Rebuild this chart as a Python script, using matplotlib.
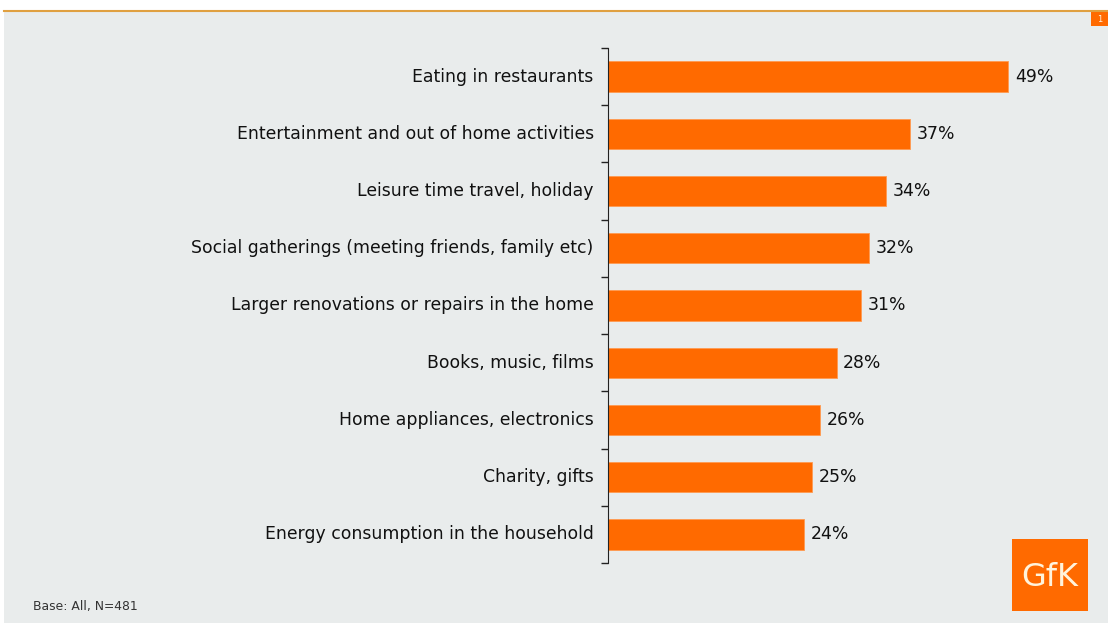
import matplotlib.pyplot as plt
from matplotlib.patches import Rectangle

categories = [
    "Eating in restaurants",
    "Entertainment and out of home activities",
    "Leisure time travel, holiday",
    "Social gatherings (meeting friends, family etc)",
    "Larger renovations or repairs in the home",
    "Books, music, films",
    "Home appliances, electronics",
    "Charity, gifts",
    "Energy consumption in the household",
]
values = [49, 37, 34, 32, 31, 28, 26, 25, 24]
base_note = "Base: All, N=481"

ORANGE = "#ff6a00"
BG = "#e9ecec"

fig = plt.figure(figsize=(11.08, 6.23), dpi=100)
fig.patch.set_facecolor("white")

# slide background + header rule
fig.patches.append(Rectangle((0.004, 0), 0.996, 0.983, transform=fig.transFigure,
                             facecolor=BG, edgecolor="none", zorder=-10))
fig.add_artist(plt.Line2D([0.004, 1], [0.983, 0.983], color="#e0a040", lw=1.5,
                          transform=fig.transFigure))

ax = fig.add_axes([0.5487, 0.0963, 0.4423, 0.8267])
ax.set_facecolor("none")

n = len(categories)
ypos = list(range(n))
ax.barh(ypos, values, height=0.53, color=ORANGE, edgecolor="#ff9a50", lw=0.6)
ax.set_ylim(n - 0.5, -0.5)
ax.set_xlim(0, 60)

for y, v in zip(ypos, values):
    ax.text(v + 0.8, y, f"{v}%", va="center", ha="left", fontsize=12.4, color="#111111")

# category labels, with ticks on the boundaries between bars
for y, c in zip(ypos, categories):
    ax.text(-1.75, y, c, va="center", ha="right", fontsize=12.4, color="#111111")
ax.set_yticks([i - 0.5 for i in range(n + 1)])
ax.set_yticklabels([])
ax.tick_params(axis="y", direction="out", length=5, width=1, color="#222222")
ax.set_xticks([])
for s in ["top", "right", "bottom"]:
    ax.spines[s].set_visible(False)
ax.spines["left"].set_color("#222222")

fig.text(0.030, 0.027, base_note, fontsize=8.9, color="#333333", ha="left", va="center")

# logo block
logo = fig.add_axes([1012 / 1108, 1 - 611 / 623, 76 / 1108, 72 / 623])
logo.set_facecolor(ORANGE)
logo.set_xticks([])
logo.set_yticks([])
for s in logo.spines.values():
    s.set_visible(False)
logo.text(0.5, 0.47, "GfK", color="#fff3dc", fontsize=23, ha="center", va="center",
          transform=logo.transAxes)

# page number tag
tag = fig.add_axes([1091 / 1108, 1 - 26 / 623, 17 / 1108, 14 / 623])
tag.set_facecolor(ORANGE)
tag.set_xticks([])
tag.set_yticks([])
for s in tag.spines.values():
    s.set_visible(False)
tag.text(0.5, 0.5, "1", color="#fff3dc", fontsize=6, ha="center", va="center",
         transform=tag.transAxes)

fig.savefig("out.png", dpi=100, facecolor=fig.get_facecolor())
